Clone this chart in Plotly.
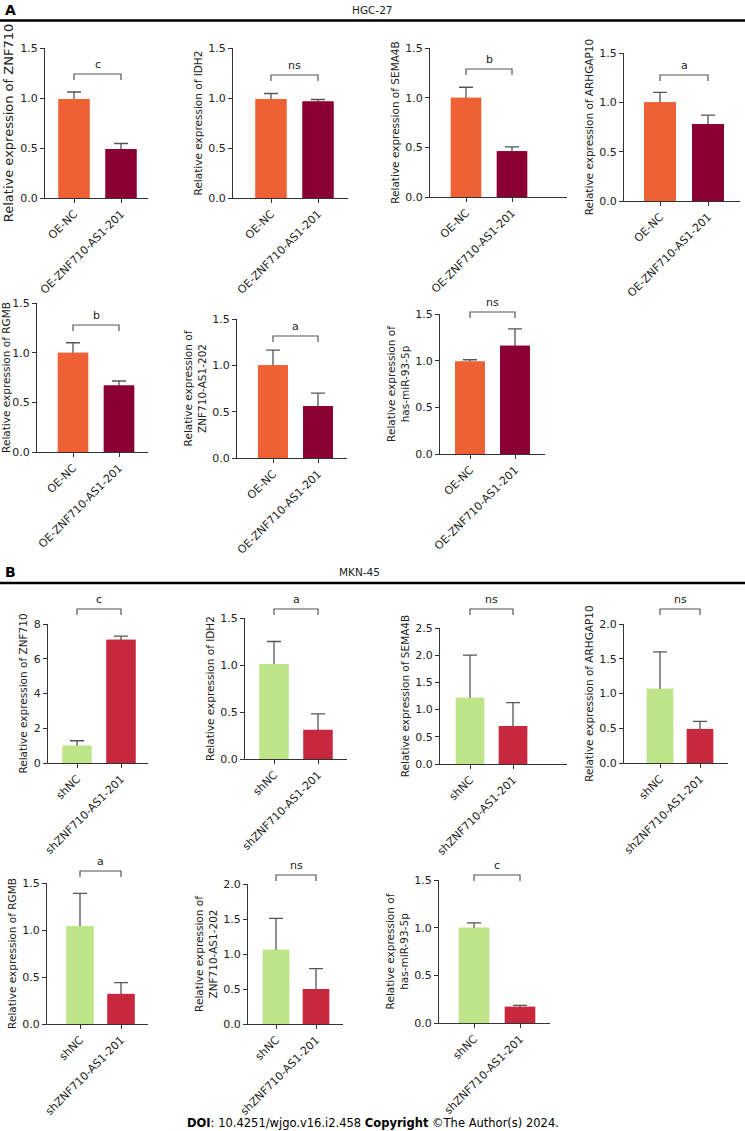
import plotly.graph_objects as go

W, H = 745, 1131
FONT = "DejaVu Sans"

genes = ["ZNF710", "IDH2", "SEMA4B", "ARHGAP10", "RGMB", "ZNF710-AS1-202", "has-miR-93-5p"]

# A: HGC-27 (overexpression)
groups_a = ["OE-NC", "OE-ZNF710-AS1-201"]
oe_nc_mean = [0.99, 0.99, 1.00, 1.00, 1.00, 1.00, 0.99]
oe_nc_err = [0.07, 0.055, 0.105, 0.10, 0.10, 0.165, 0.02]
oe_mean = [0.49, 0.965, 0.46, 0.78, 0.67, 0.56, 1.16]
oe_err = [0.055, 0.02, 0.045, 0.09, 0.045, 0.14, 0.18]
sig_a = ["c", "ns", "b", "a", "b", "a", "ns"]
ymax_a = [1.5, 1.5, 1.5, 1.5, 1.5, 1.5, 1.5]
dtick_a = [0.5, 0.5, 0.5, 0.5, 0.5, 0.5, 0.5]

# B: MKN-45 (knockdown)
groups_b = ["shNC", "shZNF710-AS1-201"]
shnc_mean = [1.0, 1.01, 1.22, 1.07, 1.04, 1.06, 1.0]
shnc_err = [0.28, 0.24, 0.78, 0.53, 0.35, 0.45, 0.05]
sh_mean = [7.1, 0.31, 0.70, 0.49, 0.32, 0.50, 0.17]
sh_err = [0.2, 0.17, 0.43, 0.11, 0.12, 0.29, 0.015]
sig_b = ["c", "a", "ns", "ns", "a", "ns", "c"]
ymax_b = [8, 1.5, 2.5, 2.0, 1.5, 2.0, 1.5]
dtick_b = [2, 0.5, 0.5, 0.5, 0.5, 0.5, 0.5]

colors_a = ["#EE6135", "#8A0032"]
colors_b = ["#BEE589", "#C8283E"]

# pixel boxes: left, right, top tick, zero, bar0 centre, bar1 centre, bracket
boxes = [
    (45, 148, 48, 198, 74, 121, 74),
    (233, 348, 48, 198, 271, 318, 75),
    (430, 567, 48, 197, 466, 512, 69),
    (624, 740, 53, 201, 660, 708, 75),
    (37, 148, 303, 452, 73, 119, 325),
    (237, 347, 319, 458, 273, 318, 336),
    (440, 545, 314, 454, 470, 515, 312),
    (48, 148, 624, 763, 77, 121, 609),
    (245, 347, 618, 759, 274, 318, 609),
    (440, 567, 628, 764, 470, 513, 609),
    (624, 728, 624, 763, 660, 700, 609),
    (47, 148, 883, 1024, 80, 121, 871),
    (248, 343, 884, 1024, 276, 316, 875),
    (439, 550, 880, 1023, 474, 520, 875),
]

panels = []
for i, g in enumerate(genes):
    panels.append(dict(gene=g, groups=groups_a, mean=[oe_nc_mean[i], oe_mean[i]],
                       err=[oe_nc_err[i], oe_err[i]], sig=sig_a[i], ymax=ymax_a[i],
                       dtick=dtick_a[i], colors=colors_a))
for i, g in enumerate(genes):
    panels.append(dict(gene=g, groups=groups_b, mean=[shnc_mean[i], sh_mean[i]],
                       err=[shnc_err[i], sh_err[i]], sig=sig_b[i], ymax=ymax_b[i],
                       dtick=dtick_b[i], colors=colors_b))

fig = go.Figure()
layout = {}
shapes = []
annotations = []
axcol = "#333333"
txtcol = "#222222"

for k, (p, box) in enumerate(zip(panels, boxes), start=1):
    left, right, top, bottom, b0, b1, br = box
    sfx = "" if k == 1 else str(k)
    xa, ya = "x" + sfx, "y" + sfx
    sp = b1 - b0
    xr = [-(b0 - left) / sp, 1 + (right - b1) / sp]

    # bars with error bars, then the same bars again to hide the lower half
    fig.add_trace(go.Bar(
        x=[0, 1], y=p["mean"], width=0.66, marker_color=p["colors"],
        marker_line_width=0,
        error_y=dict(type="data", array=p["err"], visible=True, color="#555555",
                     thickness=1.3, width=7),
        xaxis=xa, yaxis=ya, showlegend=False, hoverinfo="skip"))
    fig.add_trace(go.Bar(
        x=[0, 1], y=p["mean"], width=0.66, marker_color=p["colors"],
        marker_line_width=0, xaxis=xa, yaxis=ya, showlegend=False,
        customdata=p["groups"], hovertemplate="%{customdata}: %{y}<extra></extra>"))

    gene = p["gene"]
    if "-" in gene and len(gene) > 10:
        ytitle = "Relative expression of<br>" + gene
    else:
        ytitle = "Relative expression of " + gene
    tsize = 13 if k == 1 else 10.5

    layout["xaxis" + sfx] = dict(
        domain=[left / W, right / W], anchor=ya, range=xr, automargin=False,
        tickvals=[0, 1], ticktext=p["groups"], tickangle=-45,
        showline=True, linecolor=axcol, linewidth=1.3,
        ticks="outside", ticklen=4, tickwidth=1.3, tickcolor=axcol,
        showgrid=False, zeroline=False, fixedrange=True,
        tickfont=dict(family=FONT, size=11, color=txtcol))
    layout["yaxis" + sfx] = dict(
        domain=[1 - bottom / H, 1 - top / H], anchor=xa, automargin=False,
        range=[0, p["ymax"]], dtick=p["dtick"],
        tickformat="d" if p["dtick"] >= 1 else ".1f",
        showline=True, linecolor=axcol, linewidth=1.3,
        ticks="outside", ticklen=4, tickwidth=1.3, tickcolor=axcol,
        showgrid=False, zeroline=False, fixedrange=True,
        tickfont=dict(family=FONT, size=11, color=txtcol),
        title=dict(text=ytitle, standoff=3,
                   font=dict(family=FONT, size=tsize, color=txtcol)))

    # significance bracket
    yb = (bottom - br) / (bottom - top)
    drop = 6 / (bottom - top)
    shapes.append(dict(type="path", xref=xa, yref=ya + " domain",
                       path=f"M 0 {yb - drop} L 0 {yb} L 1 {yb} L 1 {yb - drop}",
                       line=dict(color="#555555", width=1.2)))
    annotations.append(dict(text=p["sig"], xref=xa, yref=ya + " domain", x=0.5, y=yb,
                            yanchor="bottom", showarrow=False, yshift=1,
                            font=dict(family=FONT, size=11, color=txtcol)))

# section headers
for label, cell, ytxt, yline in [("A", "HGC-27", 10, 20.5), ("B", "MKN-45", 572, 583)]:
    annotations.append(dict(text=f"<b>{label}</b>", xref="paper", yref="paper",
                            x=3 / W, y=1 - ytxt / H, xanchor="left", yanchor="middle",
                            showarrow=False, font=dict(family=FONT, size=14, color="black")))
    annotations.append(dict(text=cell, xref="paper", yref="paper",
                            x=(372 if label == "A" else 359) / W, y=1 - ytxt / H,
                            xanchor="center", yanchor="middle", showarrow=False,
                            font=dict(family=FONT, size=10.5, color=txtcol)))
    shapes.append(dict(type="line", xref="paper", yref="paper", x0=0, x1=1,
                       y0=1 - yline / H, y1=1 - yline / H,
                       line=dict(color="black", width=2.5)))

annotations.append(dict(
    text="<b>DOI</b>: 10.4251/wjgo.v16.i2.458 <b>Copyright</b> ©The Author(s) 2024.",
    xref="paper", yref="paper", x=373 / W, y=1 - 1123 / H, xanchor="center",
    yanchor="middle", showarrow=False, font=dict(family=FONT, size=11.5, color="black")))

fig.update_layout(
    width=W, height=H, margin=dict(l=0, r=0, t=0, b=0),
    paper_bgcolor="white", plot_bgcolor="white", barmode="overlay",
    shapes=shapes, annotations=annotations, **layout)

# the page body has a default margin; drop it so the figure sits at the corner
fig.write_html("out.html", config={"displayModeBar": False},
               post_script="document.body.style.margin='0';")
